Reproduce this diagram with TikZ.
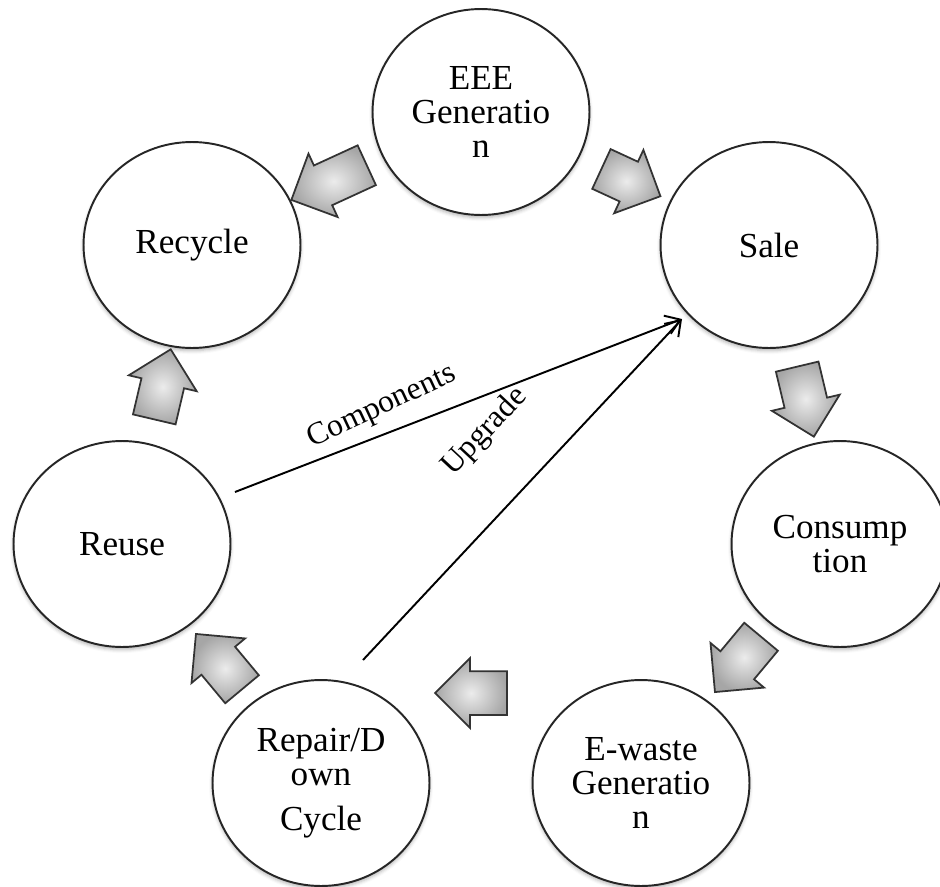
\documentclass[tikz,border=0pt]{standalone}
\usepackage{fontspec}
\setmainfont{Liberation Serif}
\usetikzlibrary{shapes.geometric,shapes.arrows,arrows.meta,shadows.blur}
\begin{document}
\begin{tikzpicture}[x=0.02cm,y=-0.02cm,
  stage/.style={ellipse, draw=black!85, line width=1.1pt, fill=white,
    minimum width=4.34cm, minimum height=4.12cm, inner sep=0pt,
    align=center, font=\fontsize{20}{19.4}\selectfont,
    blur shadow={shadow xshift=0pt, shadow yshift=-1.5pt,
      shadow blur radius=2pt, shadow opacity=30}},
  flow/.style={single arrow, draw=black!80, line width=1pt,
    inner color=gray!15, outer color=gray!70,
    minimum height=1.44cm, inner xsep=0pt, inner ysep=0.42cm,
    single arrow head extend=0.26cm},
  link/.style={line width=1.1pt, -{Straight Barb[length=8pt,width=11pt]}},
  lbl/.style={font=\fontsize{18}{20}\selectfont, inner sep=0pt}]
\clip (0,0) rectangle (940,886);

% stages of the cycle
\node[stage] (eee)     at (481,112) {EEE\\Generatio\\n};
\node[stage] (sale)    at (769,245) {Sale};
\node[stage] (cons)    at (840,544) {Consump\\tion};
\node[stage] (ewaste)  at (641,783) {E-waste\\Generatio\\n};
\node[stage] (repair)  at (321,783) {Repair/D\\own\\[6pt]Cycle};
\node[stage] (reuse)   at (122,544) {Reuse};
\node[stage] (recycle) at (192,245) {Recycle};

% block arrows between the stages
\node[flow, rotate=-24.8, minimum height=1.3cm] (f1) at (621,178) {};
\node[flow, rotate=204.7, minimum height=1.66cm] (f2) at (339,178) {};
\node[flow, rotate=-76.6] (f3) at (803,391) {};
\node[flow, rotate=-129.8] (f4) at (745,656) {};
\node[flow, rotate=180] (f5) at (482,693) {};
\node[flow, rotate=129.8] (f6) at (226,670) {};
\node[flow, rotate=76.8] (f7) at (160,395) {};

% links back to sale
\coordinate (cstart) at (235,492);
\coordinate (ustart) at (363,660);
\coordinate (tip) at (682,319);
\draw[link] (cstart) -- (tip);
\draw[link] (ustart) -- (tip);
\node[lbl, rotate=25] (lc) at (382,407) {Components};
\node[lbl, rotate=47] (lu) at (485,432) {Upgrade};
\end{tikzpicture}
\end{document}
